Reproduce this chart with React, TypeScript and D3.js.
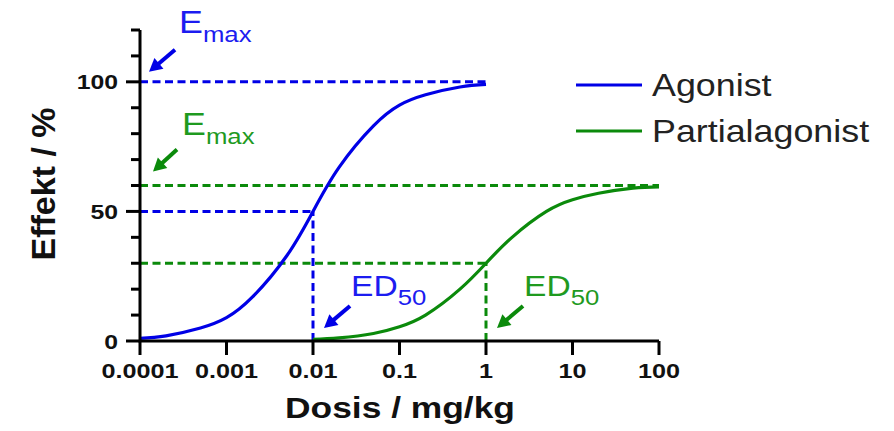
import React, { useEffect, useRef } from 'react';
import * as d3 from 'd3';

// dose axis (log) and effect axis
const doseTicks = [0.0001, 0.001, 0.01, 0.1, 1, 10, 100];
const doseTickLabels = ['0.0001', '0.001', '0.01', '0.1', '1', '10', '100'];
const effectTicks = [0, 10, 20, 30, 40, 50, 60, 70, 80, 90, 100, 110, 120];
const effectLabelTicks = [0, 50, 100];

// curves
const agonistDose = [0.0001, 0.0002, 0.0005, 0.001, 0.002, 0.005, 0.01, 0.02, 0.05, 0.1, 0.2, 0.5, 1];
const agonistEffect = [1, 2, 5, 9, 17, 33, 50, 67, 83, 91, 95, 98, 99];
const partialDose = [0.01, 0.02, 0.05, 0.1, 0.2, 0.5, 1, 2, 5, 10, 20, 50, 100];
const partialEffect = [0.6, 1.2, 2.9, 5.5, 10, 20, 30, 40, 50, 54.5, 57, 59, 59.5];

const seriesNames = ['Agonist', 'Partialagonist'];
const emaxValues = [100, 60];
const ed50Values = [0.01, 1];
const lastDose = [1, 100];

const BLUE = '#0000e6';
const BLUE_TEXT = '#1c1cf0';
const GREEN = '#0b8a0b';
const GREEN_TEXT = '#1f9a1f';
const FONT = '"Liberation Sans", Arial, sans-serif';

const W = 894;
const H = 431;

const App = () => {
    const ref = useRef<SVGSVGElement>(null);

    useEffect(() => {
        const svg = d3.select(ref.current);
        svg.selectAll('*').remove();

        const x = d3.scaleLog().domain([0.0001, 100]).range([140, 659]);
        const y = d3.scaleLinear().domain([0, 120]).range([341, 30]);

        const stretched = (px: number, py: number, sx: number) =>
            svg.append('text')
                .attr('transform', `translate(${px},${py}) scale(${sx},1)`)
                .attr('font-family', FONT);

        const arrow = (tipX: number, tipY: number, tailX: number, tailY: number, color: string) => {
            const dx = tipX - tailX, dy = tipY - tailY;
            const len = Math.sqrt(dx * dx + dy * dy);
            const ux = dx / len, uy = dy / len;
            const head = 13, half = 7;
            const bx = tipX - ux * head, by = tipY - uy * head;
            svg.append('line')
                .attr('x1', tailX).attr('y1', tailY)
                .attr('x2', bx + ux * 2).attr('y2', by + uy * 2)
                .attr('stroke', color).attr('stroke-width', 4);
            svg.append('polygon')
                .attr('points', [
                    [tipX, tipY],
                    [bx - uy * half, by + ux * half],
                    [bx + uy * half, by - ux * half],
                ].map(p => p.join(',')).join(' '))
                .attr('fill', color);
        };

        const colors = [BLUE, GREEN];
        const textColors = [BLUE_TEXT, GREEN_TEXT];

        // dashed guide lines
        const guides: { x1: number; x2: number; y1: number; y2: number; c: string }[] = [];
        emaxValues.forEach((e, i) => {
            guides.push({ x1: 0.0001, x2: lastDose[i], y1: e, y2: e, c: colors[i] });
            guides.push({ x1: 0.0001, x2: ed50Values[i], y1: e / 2, y2: e / 2, c: colors[i] });
            guides.push({ x1: ed50Values[i], x2: ed50Values[i], y1: 0, y2: e / 2, c: colors[i] });
        });
        svg.append('g')
            .selectAll('line')
            .data(guides)
            .enter()
            .append('line')
            .attr('x1', d => x(d.x1)).attr('x2', d => x(d.x2))
            .attr('y1', d => y(d.y1)).attr('y2', d => y(d.y2))
            .attr('stroke', d => d.c)
            .attr('stroke-width', 3)
            .attr('stroke-dasharray', '8,4.5');

        // curves
        const line = d3.line<[number, number]>()
            .x(d => x(d[0]))
            .y(d => y(d[1]))
            .curve(d3.curveNatural);
        const series = [
            agonistDose.map((d, i) => [d, agonistEffect[i]] as [number, number]),
            partialDose.map((d, i) => [d, partialEffect[i]] as [number, number]),
        ];
        series.forEach((s, i) => {
            svg.append('path')
                .attr('d', line(s))
                .attr('fill', 'none')
                .attr('stroke', colors[i])
                .attr('stroke-width', 3.2);
        });

        // axes
        svg.append('path')
            .attr('d', `M${x(0.0001)},${y(120)} V${y(0)} H${x(100)}`)
            .attr('fill', 'none')
            .attr('stroke', '#000')
            .attr('stroke-width', 3);
        svg.append('g')
            .selectAll('line')
            .data(effectTicks)
            .enter()
            .append('line')
            .attr('x1', d => (effectLabelTicks.includes(d) ? 126 : 131))
            .attr('x2', 140)
            .attr('y1', d => y(d)).attr('y2', d => y(d))
            .attr('stroke', '#000')
            .attr('stroke-width', 3);
        svg.append('g')
            .selectAll('line')
            .data(doseTicks)
            .enter()
            .append('line')
            .attr('x1', d => x(d)).attr('x2', d => x(d))
            .attr('y1', y(0)).attr('y2', y(0) + 14)
            .attr('stroke', '#000')
            .attr('stroke-width', 3);

        effectLabelTicks.forEach(v => {
            stretched(118, y(v) + 7.5, 1.18)
                .attr('text-anchor', 'end')
                .attr('font-size', 21)
                .attr('font-weight', 'bold')
                .attr('fill', '#111')
                .text(String(v));
        });
        doseTicks.forEach((v, i) => {
            stretched(x(v), 378, 1.2)
                .attr('text-anchor', 'middle')
                .attr('font-size', 21)
                .attr('font-weight', 'bold')
                .attr('fill', '#111')
                .text(doseTickLabels[i]);
        });

        stretched(400, 418, 1.22)
            .attr('text-anchor', 'middle')
            .attr('font-size', 29)
            .attr('font-weight', 'bold')
            .attr('fill', '#111')
            .text('Dosis / mg/kg');
        svg.append('text')
            .attr('transform', 'translate(55,184) rotate(-90)')
            .attr('text-anchor', 'middle')
            .attr('font-family', FONT)
            .attr('font-size', 34)
            .attr('font-weight', 'bold')
            .attr('fill', '#111')
            .text('Effekt / %');

        // Emax labels and arrows
        const emaxLabelPos = [[179, 33], [182, 135]];
        emaxValues.forEach((e, i) => {
            const t = stretched(emaxLabelPos[i][0], emaxLabelPos[i][1], 1.12)
                .attr('fill', textColors[i])
                .attr('font-size', 32);
            t.append('tspan').text('E');
            t.append('tspan').attr('font-size', 23).attr('dy', 9).text('max');
        });
        arrow(x(0.0001) + 9, y(emaxValues[0]) - 10, x(0.0001) + 35, y(emaxValues[0]) - 32, colors[0]);
        arrow(x(0.0001) + 13, y(emaxValues[1]) - 14, x(0.0001) + 37, y(emaxValues[1]) - 36, colors[1]);

        // ED50 labels and arrows
        ed50Values.forEach((d, i) => {
            const t = stretched(x(d) + 38, 296, 1.12)
                .attr('fill', textColors[i])
                .attr('font-size', 30);
            t.append('tspan').text('ED');
            t.append('tspan').attr('font-size', 23).attr('dy', 9).text('50');
            arrow(x(d) + 11, y(0) - 13, x(d) + 37, y(0) - 35, colors[i]);
        });

        // legend
        const legendY = [85, 131];
        seriesNames.forEach((name, i) => {
            svg.append('line')
                .attr('x1', 576).attr('x2', 642)
                .attr('y1', legendY[i]).attr('y2', legendY[i])
                .attr('stroke', colors[i])
                .attr('stroke-width', 3);
            stretched(652, legendY[i] + 11, 1.12)
                .attr('font-size', 32)
                .attr('fill', '#222')
                .text(name);
        });
    }, []);

    return (
        <svg
            ref={ref}
            width={W}
            height={H}
            style={{ position: 'absolute', left: 0, top: 0, background: '#fff' }}
        ></svg>
    );
};

export default App;
